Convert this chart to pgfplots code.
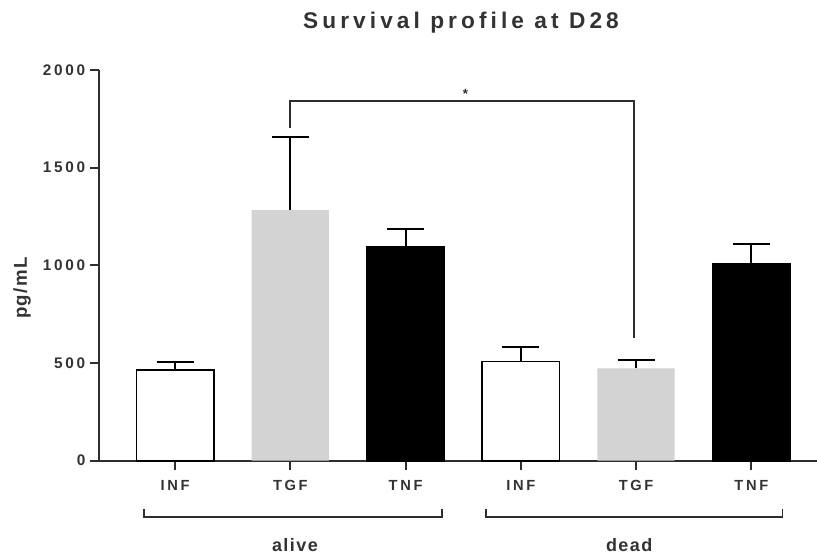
\documentclass[border=0pt]{standalone}
\usepackage{fontspec}
\setmainfont{Liberation Sans}
\usepackage{pgfplots}
\pgfplotsset{compat=1.18}
\newfontfamily\spfont[LetterSpace=18]{Liberation Sans}
\newfontfamily\spfontb[LetterSpace=8]{Liberation Sans}
\definecolor{axgray}{HTML}{2E2E2E}
\definecolor{txtgray}{HTML}{333333}
\definecolor{barGray}{HTML}{D3D3D3}
\begin{document}
\begin{tikzpicture}[x=0.75pt,y=0.75pt]
\path[use as bounding box] (0,0) rectangle (817,556);
\begin{axis}[
  at={(74.5pt,71.5pt)}, anchor=south west,
  width=538.3pt, height=293pt, scale only axis,
  xmin=-0.657, xmax=5.57, ymin=0, ymax=2000,
  enlargelimits=false, clip=false,
  axis lines=left,
  axis line style={-, line width=1.5pt, color=axgray},
  tick style={line width=1.5pt, color=axgray},
  tick align=outside, major tick length=7pt,
  xtick={0,1,2,3,4,5},
  xticklabels={INF,TGF,TNF,INF,TGF,TNF},
  ytick={0,500,1000,1500,2000},
  /pgf/number format/assume math mode=true,
  /pgf/number format/1000 sep={},
  yticklabel style={font=\spfont\bfseries\fontsize{11.5}{13}\selectfont, text=txtgray},
  xticklabel style={font=\spfont\bfseries\fontsize{11}{12}\selectfont, text=txtgray, yshift=-4.5pt},
  ybar, bar width=0.67, bar shift=0pt,
  error bars/y dir=plus, error bars/y explicit,
  error bars/error mark options={rotate=90, mark size=13.9pt, line width=1.6pt, black},
  error bars/error bar style={line width=1.6pt, black},
]
\addplot[fill=white, draw=black, line width=1.3pt] table[x=x, y=y, y error=e] {
x y e
0 464 43
3 507 75
};
\addplot[fill=barGray, draw=none] table[x=x, y=y, y error=e] {
x y e
1 1283 376
4 473 42
};
\addplot[fill=black, draw=black, line width=1.3pt] table[x=x, y=y, y error=e] {
x y e
2 1096 90
5 1010 98
};
\draw[line width=1.3pt, axgray] (axis cs:1,1701) -- (axis cs:1,1841) -- (axis cs:3.98,1841) -- (axis cs:3.98,627);
\node[font=\bfseries\fontsize{10}{10}\selectfont, text=axgray] at (axis cs:2.52,1876) {*};
\draw[line width=1.2pt, axgray] (axis cs:-0.27,-250) -- (axis cs:-0.27,-288) -- (axis cs:2.315,-288) -- (axis cs:2.315,-250);
\draw[line width=1.2pt, axgray] (axis cs:2.70,-250) -- (axis cs:2.70,-288) -- (axis cs:5.27,-288) -- (axis cs:5.27,-250);
\node[font=\spfontb\bfseries\fontsize{13.5}{15}\selectfont, text=txtgray, inner sep=1pt] at (axis cs:1.04,-432) {alive};
\node[font=\spfontb\bfseries\fontsize{13.5}{15}\selectfont, text=txtgray, inner sep=1pt] at (axis cs:3.94,-432) {dead};
\end{axis}
\node[font=\spfont\bfseries\fontsize{17}{18}\selectfont, text=txtgray] at (461,533) {Survival profile at D28};
\node[font=\spfontb\bfseries\fontsize{14}{15}\selectfont, text=txtgray, rotate=90] at (22,268) {pg/mL};
\end{tikzpicture}
\end{document}
